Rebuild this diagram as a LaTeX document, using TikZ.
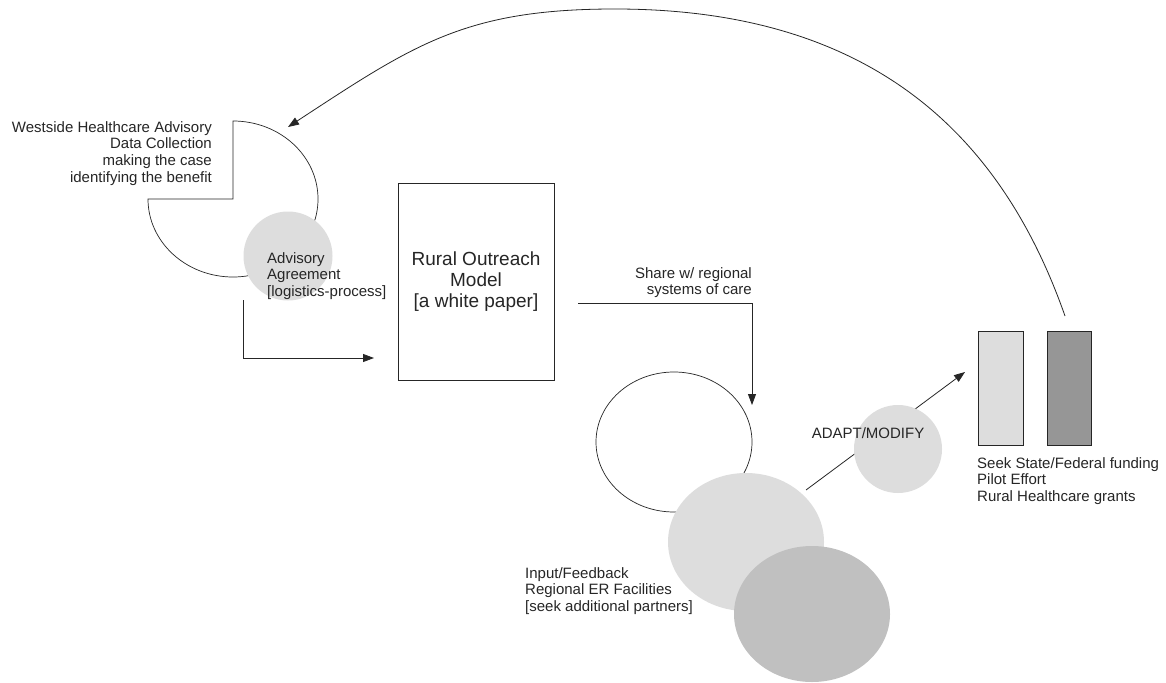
\documentclass[tikz,border=0pt]{standalone}
\usepackage{fontspec}
\setmainfont{Liberation Sans}
\usetikzlibrary{arrows.meta,shapes.geometric}
\definecolor{ink}{HTML}{262626}
\definecolor{lightfill}{HTML}{DDDDDD}
\definecolor{midfill}{HTML}{C0C0C0}
\definecolor{darkfill}{HTML}{969696}
\tikzset{
  txt/.style={font=\fontsize{15}{16.9}\selectfont, inner sep=0pt, text=ink},
  bigtxt/.style={font=\fontsize{19}{21}\selectfont, inner sep=0pt, text=ink},
  conn/.style={draw=ink, line width=0.8pt, -{Triangle[length=11pt,width=8pt]}},
  outline/.style={draw=ink, line width=0.7pt},
  blob/.style={ellipse, inner sep=0pt, draw=none}
}
\begin{document}
\begin{tikzpicture}[x=1pt,y=-1pt]
\useasboundingbox[fill=white] (0,0) rectangle (1166,682);

% pie shape (three quarters)
\draw[outline, fill=white] (233,121) -- (233,199) -- (148,199)
  arc[start angle=180, end angle=-90, x radius=85, y radius=78] -- cycle;
\node[circle, fill=lightfill, minimum size=89pt, inner sep=0pt] (adv) at (288,256) {};
\node[txt, anchor=north east, align=right] (westtxt) at (212,121)
  {Westside Healthcare Advisory\\Data Collection\\making the case\\identifying the benefit};
\node[txt, anchor=north west, align=left] (advtxt) at (267,252)
  {Advisory\\Agreement\\{[logistics-process]}};

% rural outreach model box
\node[outline, rectangle, minimum width=156pt, minimum height=197pt, inner sep=0pt,
      bigtxt, align=center] (rom) at (476,281.5) {Rural Outreach\\Model\\{[a white paper]}};

% L arrow into the box
\coordinate (l0) at (243,300);
\coordinate (l1) at (374,358);
\draw[conn] (l0) |- (l1);

% share arrow
\coordinate (s0) at (578,303);
\coordinate (s1) at (752,405);
\draw[conn] (s0) -| (s1);
\node[txt, anchor=north east, align=right] (sharetxt) at (752,267)
  {Share w/ regional\\systems of care};

% ellipses
\node[blob, outline, fill=white, minimum width=156pt, minimum height=140pt] (oe) at (674,442) {};
\node[blob, fill=lightfill, minimum width=156pt, minimum height=138pt] (le) at (746,542) {};
\node[blob, fill=midfill, minimum width=156pt, minimum height=136pt] (de) at (812,614) {};
\node[txt, anchor=north west, align=left] (inputtxt) at (525,567)
  {Input/Feedback\\Regional ER Facilities\\{[seek additional partners]}};

% adapt / modify
\coordinate (a0) at (806,490);
\coordinate (a1) at (965,372);
\draw[conn] (a0) -- (a1);
\node[circle, fill=lightfill, minimum size=88pt, inner sep=0pt] (am) at (898,449) {};
\node[txt] (amtxt) at (868,433) {ADAPT/MODIFY};

% funding bars
\node[rectangle, draw=ink, line width=0.7pt, fill=lightfill, minimum width=45pt, minimum height=114pt, inner sep=0pt] (bar1) at (1000.5,388) {};
\node[rectangle, draw=ink, line width=0.7pt, fill=darkfill, minimum width=44pt, minimum height=114pt, inner sep=0pt] (bar2) at (1069,388) {};
\node[txt, anchor=north west, align=left] (seektxt) at (977,457)
  {Seek State/Federal funding\\Pilot Effort\\Rural Healthcare grants};

% feedback loop arc
\coordinate (c0) at (1065,316);
\coordinate (ctop) at (615,9);
\coordinate (c1) at (288,127);
\draw[conn] (c0) .. controls (999,128) and (865,9) .. (ctop)
  .. controls (465,9) and (414,44.5) .. (c1);
\end{tikzpicture}
\end{document}
